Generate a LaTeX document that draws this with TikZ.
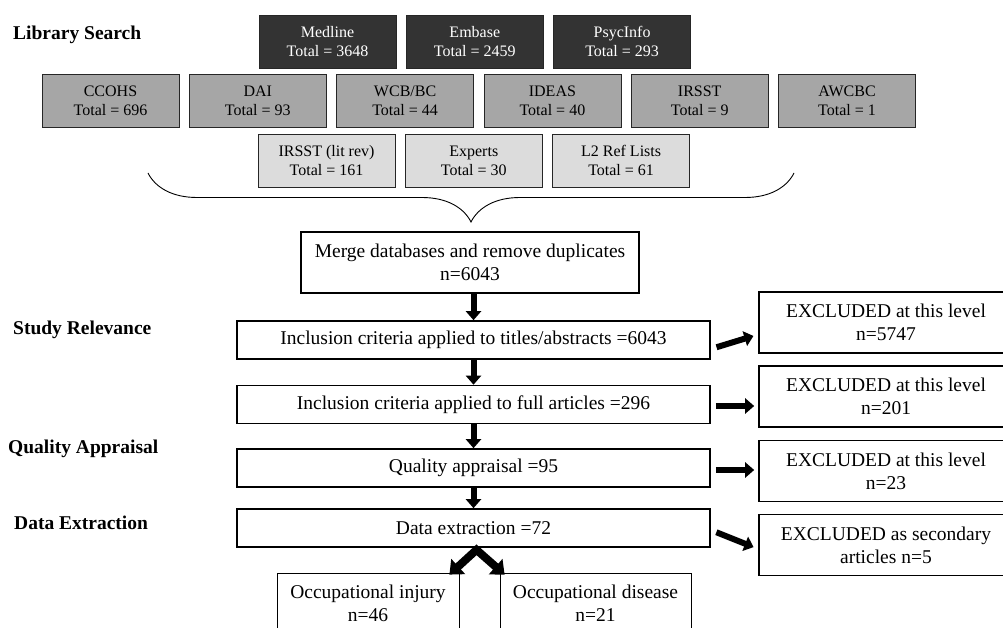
\documentclass[tikz,border=0pt]{standalone}
\usepackage{fontspec}
\setmainfont{Liberation Serif}
\usetikzlibrary{arrows.meta,positioning,decorations.pathreplacing}
\definecolor{dbdark}{HTML}{333333}
\definecolor{dbmid}{HTML}{A6A6A6}
\definecolor{dblite}{HTML}{DCDCDC}
\tikzset{
  db/.style={draw=black!85,line width=0.8pt,minimum width=137pt,minimum height=53pt,inner sep=0pt,align=center,font=\fontsize{16}{19}\selectfont},
  dbmain/.style={db,fill=dbdark,text=white},
  dbgrey/.style={db,fill=dbmid},
  dblight/.style={db,fill=dblite},
  stepbox/.style={draw,line width=1.6pt,inner sep=0pt,align=center,font=\fontsize{19.5}{23}\selectfont},
  outbox/.style={stepbox,line width=0.8pt,minimum height=61pt},
  lbl/.style={anchor=west,inner sep=0pt,font=\bfseries\fontsize{19.5}{23}\selectfont},
  fat/.style={line width=6pt,-{Triangle[length=9pt,width=15pt]}},
  fork/.style={line width=8pt,miter limit=10,{Triangle[length=12pt,width=20pt]}-{Triangle[length=12pt,width=20pt]}}
}
\begin{document}
\begin{tikzpicture}[x=1pt,y=-1pt,node distance=9.5pt]
\useasboundingbox (0,0) rectangle (1003,628);

\node[lbl] (lsearch) at (13,35) {Library Search};
\node[lbl] (lrel) at (13,330) {Study Relevance};
\node[lbl] (lqual) at (8,449) {Quality Appraisal};
\node[lbl] (lext) at (14,523) {Data Extraction};

\node[dbmain] (medline) at (327.5,41.5) {Medline\\Total = 3648};
\node[dbmain] (embase) [right=of medline] {Embase\\Total = 2459};
\node[dbmain] (psyc) [right=of embase] {PsycInfo\\Total = 293};

\node[dbgrey] (ccohs) at (110.5,100.5) {CCOHS\\Total = 696};
\node[dbgrey] (dai) [right=of ccohs] {DAI\\Total = 93};
\node[dbgrey] (wcb) [right=of dai] {WCB/BC\\Total = 44};
\node[dbgrey] (ideas) [right=of wcb] {IDEAS\\Total = 40};
\node[dbgrey] (irsst) [right=of ideas] {IRSST\\Total = 9};
\node[dbgrey] (awcbc) [right=of irsst] {AWCBC\\Total = 1};

\node[dblight] (litrev) at (326.5,160.5) {IRSST (lit rev)\\Total = 161};
\node[dblight] (experts) [right=of litrev] {Experts\\Total = 30};
\node[dblight] (reflist) [right=of experts] {L2 Ref Lists\\Total = 61};

\draw[line width=0.9pt,decorate,decoration={brace,mirror,amplitude=49pt}] (148,173) -- (794,173);

\node[stepbox,line width=2pt,minimum width=338pt,minimum height=61pt] (merge) at (470,262.5) {Merge databases and remove duplicates\\n=6043};
\node[stepbox,minimum width=473pt,minimum height=38pt] (incl1) at (473.5,340) {Inclusion criteria applied to titles/abstracts =6043};
\node[stepbox,minimum width=473pt,minimum height=38pt] (incl2) at (473.5,404.5) {Inclusion criteria applied to full articles =296};
\node[stepbox,minimum width=473pt,minimum height=38pt] (qual) at (473.5,468) {Quality appraisal =95};
\node[stepbox,minimum width=473pt,minimum height=38pt] (dataex) at (473.5,528) {Data extraction =72};

\node[stepbox,minimum width=254pt,minimum height=61pt] (excl1) at (886,322.5) {EXCLUDED at this level\\n=5747};
\node[stepbox,minimum width=254pt,minimum height=61pt] (excl2) at (886,396.5) {EXCLUDED at this level\\n=201};
\node[stepbox,minimum width=254pt,minimum height=61pt] (excl3) at (886,471) {EXCLUDED at this level\\n=23};
\node[stepbox,minimum width=254pt,minimum height=61pt] (excl4) at (886,545) {EXCLUDED as secondary\\articles n=5};

\node[outbox,minimum width=182pt] (injury) at (368,603.5) {Occupational injury\\n=46};
\node[outbox,minimum width=191pt] (disease) at (595.5,603.5) {Occupational disease\\n=21};

\draw[fat] (incl1.north |- merge.south) -- (incl1.north);
\draw[fat] (incl1.south) -- (incl2.north);
\draw[fat] (incl2.south) -- (qual.north);
\draw[fat] (qual.south) -- (dataex.north);

\draw[fat,shorten <=6pt,shorten >=5pt] ([yshift=-9pt]incl1.east) -- ([yshift=-12pt]excl1.west);
\draw[fat,shorten <=5pt,shorten >=4pt] ([yshift=-1.5pt]incl2.east) -- ([yshift=-9.5pt]excl2.west);
\draw[fat,shorten <=5pt,shorten >=4pt] ([yshift=-2pt]qual.east) -- ([yshift=1pt]excl3.west);
\draw[fat,shorten <=6pt,shorten >=5pt] ([yshift=-2pt]dataex.east) -- ([yshift=-4pt]excl4.west);

\draw[fork] ([xshift=-10pt,yshift=-2pt]injury.north east) -- ([xshift=3pt,yshift=-2pt]dataex.south) -- ([xshift=5pt,yshift=-2pt]disease.north west);
\end{tikzpicture}
\end{document}
